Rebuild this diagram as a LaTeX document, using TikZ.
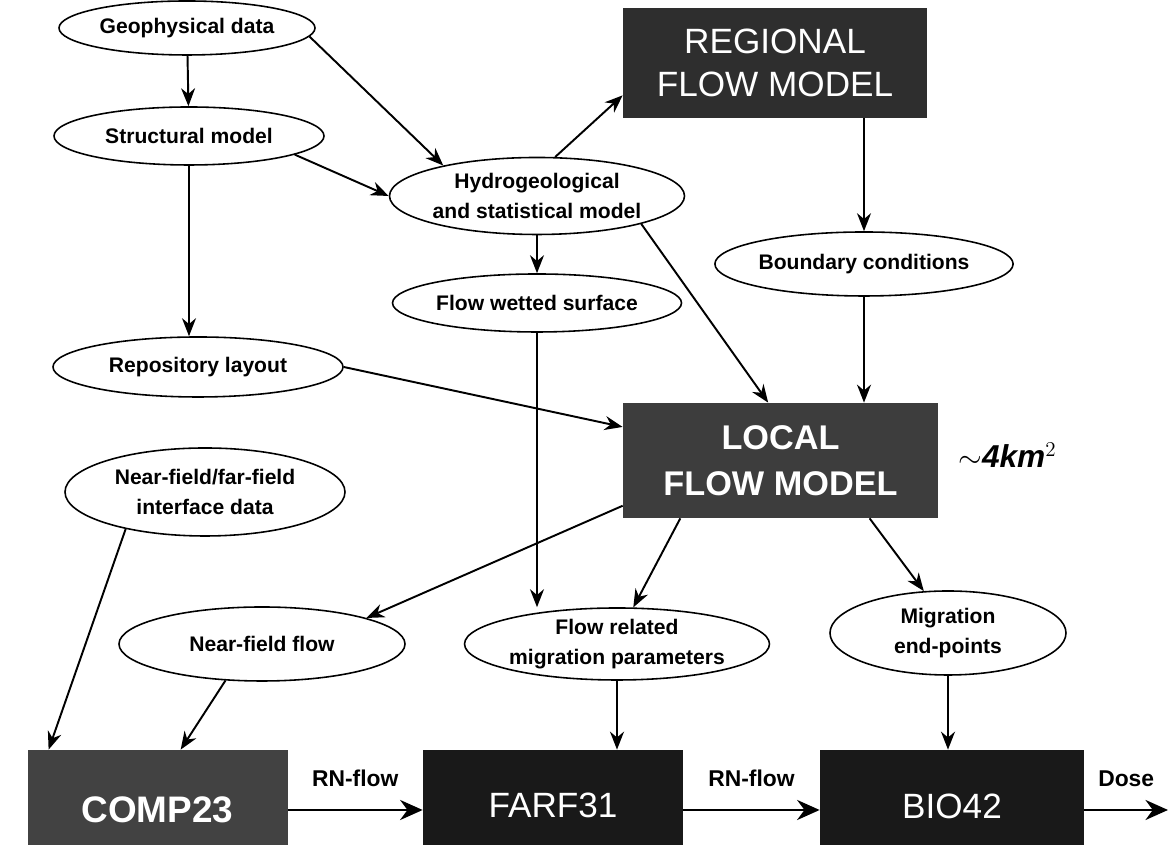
\documentclass[tikz,border=0pt]{standalone}
\usepackage{fontspec}
\setmainfont{Liberation Sans}
\usepackage{tikz}
\usetikzlibrary{shapes.geometric,arrows.meta}

\begin{document}
\begin{tikzpicture}[
    oval/.style={draw, line width=0.9pt, ellipse, inner sep=0pt, align=center,
                 font=\fontsize{12}{17}\selectfont\bfseries},
    model/.style={rectangle, inner sep=0pt, align=center, text=white,
                  font=\fontsize{20}{24}\selectfont},
    code/.style={rectangle, inner sep=0pt, minimum width=5.2cm, minimum height=2.4cm,
                 text=white, font=\fontsize{20}{24}\selectfont},
    arr/.style={-{Stealth[length=0.36cm, width=0.28cm]}, line width=1.1pt},
    flow/.style={-{Stealth[length=0.45cm, width=0.4cm]}, line width=1.6pt},
    lbl/.style={font=\fontsize{13}{15}\selectfont\bfseries, above=9pt}
  ]
  \useasboundingbox (0,0) rectangle (23.38,16.9);

  % models in dark boxes
  \node[model, fill=black!82, minimum width=6.08cm, minimum height=2.2cm] (regional)
    at (15.5,15.64) {REGIONAL\\FLOW MODEL};
  \node[model, fill=black!76, minimum width=6.3cm, minimum height=2.3cm,
        font=\fontsize{19.5}{26}\selectfont\bfseries] (local)
    at (15.61,7.69) {LOCAL\\FLOW MODEL};
  \node at (20.15,7.8) {\fontsize{18}{18}\selectfont\bfseries\itshape $\sim$4km$^{2}$};

  % data and parameters
  \node[oval, minimum width=5.12cm, minimum height=1.08cm] (geo) at (3.74,16.34) {Geophysical data};
  \node[oval, minimum width=5.4cm, minimum height=1.16cm] (struct) at (3.78,14.18) {Structural model};
  \node[oval, minimum width=5.76cm, minimum height=1.54cm] (hydro) at (10.74,12.98)
    {Hydrogeological\\and statistical model};
  \node[oval, minimum width=5.84cm, minimum height=1.28cm] (bound) at (17.28,11.62) {Boundary conditions};
  \node[oval, minimum width=5.78cm, minimum height=1.16cm] (wetted) at (10.74,10.84) {Flow wetted surface};
  \node[oval, minimum width=5.8cm, minimum height=1.2cm] (repo) at (3.96,9.56) {Repository layout};
  \node[oval, minimum width=5.6cm, minimum height=1.76cm] (nearfar) at (4.1,7.06)
    {Near-field/far-field\\interface data};
  \node[oval, minimum width=5.72cm, minimum height=1.48cm] (nearflow) at (5.24,4.02) {Near-field flow};
  \node[oval, minimum width=5.8cm, minimum height=1.44cm] (related) at (12.34,4.02)
    {Flow related\\migration parameters};
  \node[oval, minimum width=4.72cm, minimum height=1.68cm] (mig) at (18.96,4.24)
    {Migration\\end-points};

  % codes
  \node[code, fill=black!74, font=\fontsize{21}{24}\selectfont\bfseries] (comp) at (3.15,0.7)
    {\raisebox{-7pt}{COMP23}};
  \node[code, fill=black!90] (farf) at (11.06,0.7) {\raisebox{5pt}{FARF31}};
  \node[code, fill=black!90, minimum width=5.28cm] (bio) at (19.04,0.7) {\raisebox{4pt}{BIO42}};
  \coordinate (dose) at (23.36,0.7);

  \draw[arr] (geo) -- (struct);
  \draw[arr] (geo.-4) -- (hydro.162);
  \draw[arr] (struct.-10) -- (hydro.west);
  \draw[arr] (hydro.65) -- (regional.192);
  \draw[arr] (struct.south) -- (struct.south |- repo.north);
  \draw[arr] (hydro) -- (wetted);
  \draw[arr] (hydro.-15) -- (local.102);
  \draw[arr] (regional.south -| bound.north) -- (bound.north);
  \draw[arr] (bound.south) -- (bound.south |- local.north);
  \draw[arr] (repo.east) -- (local.168);
  \draw[arr] (wetted.south) -- (wetted.south |- related.north);
  \draw[arr] (local.196) -- (nearflow.14);
  \draw[arr] (local.210) -- (related.66);
  \draw[arr] (local.-33) -- (mig.120);
  \draw[arr] (nearfar.205) -- (comp.151);
  \draw[arr] (nearflow.225) -- (comp.69);
  \draw[arr] (related.south) -- (related.south |- farf.north);
  \draw[arr] (mig.south) -- (mig.south |- bio.north);

  \draw[flow] (comp) -- node[lbl] {RN-flow} (farf);
  \draw[flow] (farf) -- node[lbl] {RN-flow} (bio);
  \draw[flow] (bio) -- node[lbl] {Dose} (dose);
\end{tikzpicture}
\end{document}
